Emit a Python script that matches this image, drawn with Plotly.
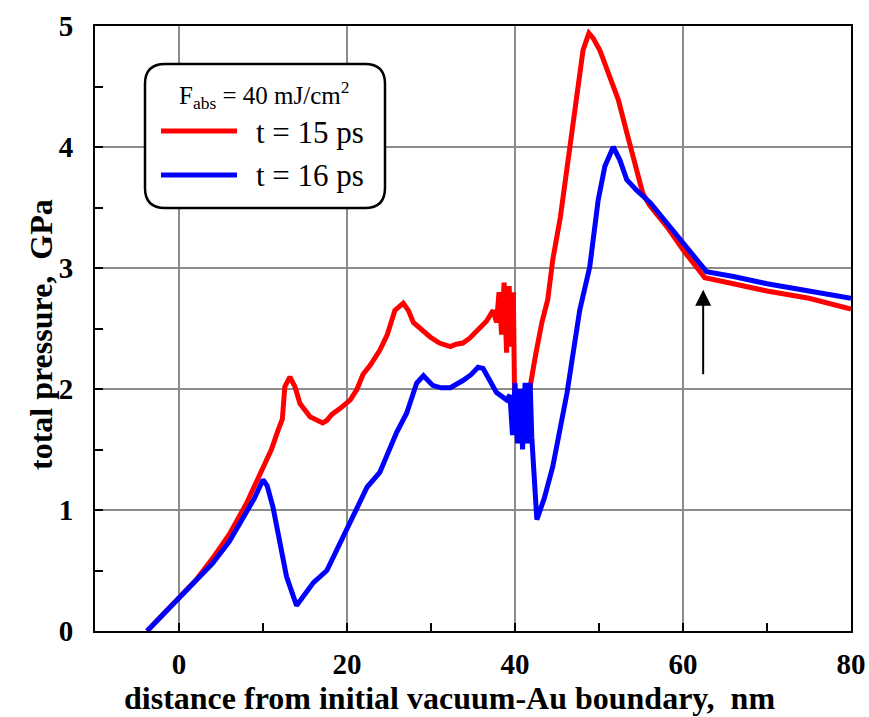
import plotly.graph_objects as go

# ---- data ----
x15 = [-3.8, -2, 0, 2, 4, 6, 8, 10, 11, 11.8, 12.3, 12.6, 13.2, 13.8, 14.4, 15.6, 16.4, 17.1, 17.6,
       18.2, 19.2, 20.4, 21.2, 21.9, 22.8, 23.9, 24.8, 25.7, 26.7, 27.3, 27.9, 29.0, 29.9, 31.0, 32.3,
       33.0, 33.8, 34.6, 35.3, 35.8, 36.6, 37.4, 37.8, 38.1, 38.4, 38.7, 39.0, 39.3, 39.6, 39.8, 40.0,
       40.5, 41.3, 41.8, 42.5, 43.2, 43.9, 44.5, 45.4, 46.5, 47.4, 48.1, 48.8, 49.3, 50.1, 51.3, 52.3,
       53.3, 54.3, 55.2, 56.0, 58.1, 60.0, 62.0, 62.6, 66, 70, 75, 80]
y15 = [0, 0.13, 0.27, 0.42, 0.6, 0.8, 1.05, 1.36, 1.5, 1.66, 1.75, 2.02, 2.10, 2.02, 1.88, 1.77, 1.74,
       1.72, 1.74, 1.79, 1.84, 1.91, 2.0, 2.12, 2.2, 2.32, 2.45, 2.65, 2.71, 2.65, 2.55, 2.48, 2.43, 2.38,
       2.35, 2.37, 2.38, 2.42, 2.47, 2.51, 2.56, 2.65, 2.55, 2.80, 2.45, 2.88, 2.30, 2.85, 2.35, 2.80,
       1.66, 1.7, 1.9, 2.02, 2.3, 2.55, 2.74, 3.07, 3.42, 3.98, 4.39, 4.80, 4.94, 4.90, 4.80, 4.58, 4.39,
       4.12, 3.84, 3.62, 3.52, 3.34, 3.15, 2.98, 2.92, 2.87, 2.81, 2.75, 2.66]

x16 = [-3.8, -2, 0, 2, 4, 6, 8, 9, 10, 10.5, 11.2, 12.0, 12.8, 14.0, 14.8, 16.0, 17.6, 18.8, 20.4,
       22.4, 23.9, 25.0, 25.9, 27.1, 28.3, 29.1, 30.2, 31.2, 32.3, 33.8, 34.8, 35.6, 36.2, 37.0, 37.8,
       39.0, 39.4, 39.7, 40.0, 40.3, 40.6, 40.9, 41.2, 41.5, 41.8, 42.0, 42.6, 43.5, 44.5, 46.2, 47.7,
       48.9, 49.9, 50.7, 51.7, 52.5, 53.3, 54.5, 56.1, 58.1, 60.5, 62.0, 62.8, 66, 70, 75, 80]
y16 = [0, 0.13, 0.26, 0.41, 0.56, 0.74, 0.97, 1.10, 1.25, 1.20, 1.02, 0.72, 0.45, 0.21, 0.28, 0.40,
       0.50, 0.67, 0.92, 1.19, 1.31, 1.48, 1.64, 1.80, 2.05, 2.11, 2.03, 2.01, 2.01, 2.07, 2.12, 2.18,
       2.17, 2.07, 1.97, 1.91, 1.95, 1.62, 2.05, 1.55, 2.00, 1.50, 2.05, 1.55, 2.05, 1.60, 0.92, 1.10,
       1.36, 1.97, 2.65, 3.01, 3.56, 3.84, 4.00, 3.89, 3.73, 3.64, 3.54, 3.37, 3.17, 3.04, 2.97, 2.93,
       2.87, 2.81, 2.75]

series_names = ["t = 15 ps", "t = 16 ps"]
legend_title = "F<sub>abs</sub> = 40 mJ/cm<sup>2</sup>"
x_title = "distance from initial vacuum-Au boundary,  nm"
y_title = "total pressure,  GPa"
x_ticks = [0, 20, 40, 60, 80]
y_ticks = [0, 1, 2, 3, 4, 5]

RED = "#ff0000"
BLUE = "#0000ff"
FONT = "Liberation Serif"

W, H = 869, 717
L, R, T, B = 95, 18, 26, 86
PW, PH = W - L - R, H - T - B


def px(xp):
    return (xp - L) / PW


def py(yp):
    return (H - B - yp) / PH


fig = go.Figure()
fig.add_trace(go.Scatter(x=x15, y=y15, mode="lines", name=series_names[0],
                         line=dict(color=RED, width=5), showlegend=False))
fig.add_trace(go.Scatter(x=x16, y=y16, mode="lines", name=series_names[1],
                         line=dict(color=BLUE, width=5), showlegend=False))

# rounded legend box
x0, x1, y0, y1 = px(145), px(385), py(208), py(64)
rx, ry = 20 / PW, 20 / PH
path = (f"M{x0+rx},{y1} L{x1-rx},{y1} Q{x1},{y1} {x1},{y1-ry} L{x1},{y0+ry} Q{x1},{y0} {x1-rx},{y0} "
        f"L{x0+rx},{y0} Q{x0},{y0} {x0},{y0+ry} L{x0},{y1-ry} Q{x0},{y1} {x0+rx},{y1} Z")
shapes = [dict(type="path", path=path, xref="paper", yref="paper",
               line=dict(color="black", width=2.5), fillcolor="white", layer="above")]
for yy, col in [(131, RED), (175, BLUE)]:
    shapes.append(dict(type="line", xref="paper", yref="paper", x0=px(161), x1=px(237),
                       y0=py(yy), y1=py(yy), line=dict(color=col, width=5), layer="above"))

annotations = [
    dict(text=legend_title, xref="paper", yref="paper", x=px(264), y=py(95), showarrow=False,
         xanchor="center", yanchor="middle", font=dict(family=FONT, size=25, color="black")),
    dict(text=series_names[0], xref="paper", yref="paper", x=px(254), y=py(132), showarrow=False,
         xanchor="left", yanchor="middle", font=dict(family=FONT, size=31, color="black")),
    dict(text=series_names[1], xref="paper", yref="paper", x=px(254), y=py(175), showarrow=False,
         xanchor="left", yanchor="middle", font=dict(family=FONT, size=31, color="black")),
    dict(x=62.4, y=2.82, ax=62.4, ay=2.11, xref="x", yref="y", axref="x", ayref="y",
         showarrow=True, arrowhead=2, arrowsize=1.6, arrowwidth=2, arrowcolor="black", text=""),
    dict(text=f"<b>{x_title}</b>", xref="paper", yref="paper", x=px(449), y=py(717),
         xanchor="center", yanchor="bottom", showarrow=False, borderpad=0,
         font=dict(family=FONT, size=32, color="black")),
    dict(text=f"<b>{y_title}</b>", xref="paper", yref="paper", x=px(41), y=py(335),
         xanchor="center", yanchor="middle", textangle=-90, showarrow=False,
         font=dict(family=FONT, size=32, color="black")),
]

fig.update_layout(
    width=W, height=H,
    margin=dict(l=L, r=R, t=T, b=B),
    paper_bgcolor="white", plot_bgcolor="white",
    font=dict(family=FONT, color="black"),
    shapes=shapes, annotations=annotations,
    showlegend=False,
)
fig.update_xaxes(
    range=[-10, 80], tickvals=x_ticks, ticktext=[f"<b>{v}</b>" for v in x_ticks],
    showgrid=True, gridcolor="#8c8c8c", gridwidth=1.5,
    showline=True, linecolor="black", linewidth=2, mirror=True,
    ticks="inside", ticklen=8, tickwidth=2, tickcolor="black",
    minor=dict(dtick=10, tick0=0, ticks="inside", ticklen=8, tickwidth=2, tickcolor="black", showgrid=False),
    tickfont=dict(family=FONT, size=29, color="black"),
    ticklabelstandoff=6,
    automargin=False, zeroline=False,
)
fig.update_yaxes(
    range=[0, 5], tickvals=y_ticks, ticktext=[f"<b>{v}</b>" for v in y_ticks],
    showgrid=True, gridcolor="#8c8c8c", gridwidth=1.5,
    showline=True, linecolor="black", linewidth=2, mirror=True,
    ticks="inside", ticklen=8, tickwidth=2, tickcolor="black",
    minor=dict(dtick=0.5, tick0=0, ticks="inside", ticklen=8, tickwidth=2, tickcolor="black", showgrid=False),
    tickfont=dict(family=FONT, size=29, color="black"),
    ticklabelstandoff=14,
    automargin=False, zeroline=False,
)

fig.write_html("out.html")
